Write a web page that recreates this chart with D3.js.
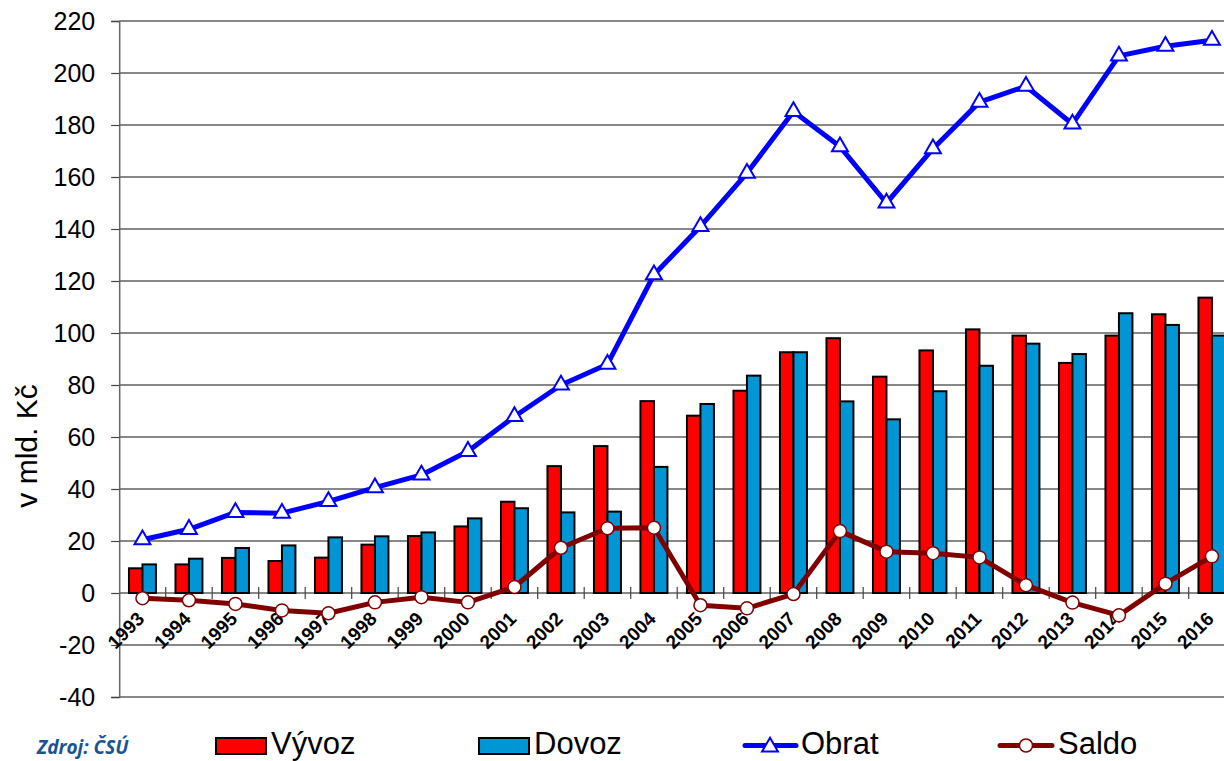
<!DOCTYPE html>
<html>
<head>
<meta charset="utf-8">
<script src="https://d3js.org/d3.v7.min.js"></script>
<style>
  body { margin: 0; background: #fff; }
  svg { display: block; font-family: Arial, "Liberation Sans", sans-serif; }
</style>
</head>
<body>
<svg id="chart" width="1224" height="761"></svg>
<script>
// data (mld. Kč)
const years = ["1993","1994","1995","1996","1997","1998","1999","2000","2001","2002","2003","2004",
               "2005","2006","2007","2008","2009","2010","2011","2012","2013","2014","2015","2016"];
const vyvoz = [9.5, 11.0, 13.5, 12.3, 13.6, 18.6, 21.9, 25.6, 35.1, 48.8, 56.5, 73.8,
               68.2, 77.8, 92.6, 98.0, 83.2, 93.3, 101.4, 99.0, 88.5, 99.0, 107.2, 113.6];
const dovoz = [11.0, 13.2, 17.3, 18.3, 21.4, 21.8, 23.3, 28.7, 32.6, 31.0, 31.3, 48.5,
               72.7, 83.6, 92.6, 73.7, 66.8, 77.6, 87.4, 95.9, 91.9, 107.6, 103.1, 99.0];
const obrat = [20.5, 24.5, 31.0, 30.7, 35.2, 40.5, 45.4, 54.5, 67.9, 80.0, 88.0, 122.4,
               141.0, 161.5, 185.2, 171.7, 150.0, 170.9, 188.8, 194.9, 180.4, 206.6, 210.3, 212.6];
const saldo = [-2.0, -2.8, -4.2, -6.7, -7.8, -3.6, -1.6, -3.6, 2.3, 17.4, 24.9, 25.1,
               -4.7, -5.9, -0.4, 23.8, 15.9, 15.3, 13.7, 3.0, -3.7, -8.6, 3.6, 14.1];
const yTicks = [-40, -20, 0, 20, 40, 60, 80, 100, 120, 140, 160, 180, 200, 220];

const svg = d3.select("#chart");
const left = 119.2, step = 46.5;

let x = d3.scaleBand().domain(years)
  .range([left, left + step * years.length])
  .paddingInner(0.42).paddingOuter(0.21);
let xSub = d3.scaleBand().domain(["v", "d"]).range([0, x.bandwidth()]);
let y = d3.scaleLinear().domain([-40, 220]).range([697, 21]);
const cx = (d, i) => x(years[i]) + x.bandwidth() / 2;

// grid lines
svg.append("g").selectAll("line").data(yTicks).join("line")
  .attr("x1", left).attr("x2", 1224)
  .attr("y1", d => y(d)).attr("y2", d => y(d))
  .attr("stroke", "#111").attr("stroke-width", 1.2);

// y axis
let yAxis = svg.append("g").attr("transform", `translate(${left},0)`)
  .call(d3.axisLeft(y).tickValues(yTicks).tickSize(8).tickPadding(16)
    .tickFormat(d => String(d)));
yAxis.select(".domain").attr("stroke", "#666").attr("stroke-width", 1.5);
yAxis.selectAll(".tick line").attr("stroke", "#444").attr("stroke-width", 1.2);
yAxis.selectAll("text").attr("font-size", "25px").attr("fill", "#000")
  .attr("font-family", "Arial, 'Liberation Sans', sans-serif");

svg.append("text")
  .attr("transform", "translate(37,446) rotate(-90)")
  .attr("text-anchor", "middle")
  .attr("font-size", "30px")
  .text("v mld. Kč");

// category tick marks on zero line
svg.append("g").selectAll("line").data(years.slice(1)).join("line")
  .attr("x1", d => x(d) - x.step() * 0.21).attr("x2", d => x(d) - x.step() * 0.21)
  .attr("y1", y(0) - 6).attr("y2", y(0) + 6)
  .attr("stroke", "#444").attr("stroke-width", 1.2);

// bars
const bars = svg.append("g");
bars.selectAll(".vyvoz").data(vyvoz).join("rect").attr("class", "vyvoz")
  .attr("x", (d, i) => x(years[i]) + xSub("v"))
  .attr("width", xSub.bandwidth())
  .attr("y", d => y(d)).attr("height", d => y(0) - y(d))
  .attr("fill", "#ff0000").attr("stroke", "#000").attr("stroke-width", 2);
bars.selectAll(".dovoz").data(dovoz).join("rect").attr("class", "dovoz")
  .attr("x", (d, i) => x(years[i]) + xSub("d"))
  .attr("width", xSub.bandwidth())
  .attr("y", d => y(d)).attr("height", d => y(0) - y(d))
  .attr("fill", "#0096d6").attr("stroke", "#000").attr("stroke-width", 2);

// x labels
svg.append("g").selectAll("text").data(years).join("text")
  .attr("transform", d => `translate(${x(d) + x.bandwidth() / 2 + 3},${y(0) + 27}) rotate(-45)`)
  .attr("text-anchor", "end")
  .attr("font-size", "19px").attr("font-weight", "bold")
  .text(d => d);

// lines
let line = d3.line().x(cx).y(d => y(d));
const tri = d3.symbol().type(d3.symbolTriangle).size(110);

svg.append("path").datum(obrat).attr("d", line)
  .attr("fill", "none").attr("stroke", "#0000ff").attr("stroke-width", 5)
  .attr("stroke-linejoin", "round");
svg.append("g").selectAll("path").data(obrat).join("path")
  .attr("d", tri)
  .attr("transform", (d, i) => `translate(${cx(d, i)},${y(d)})`)
  .attr("fill", "#fff").attr("stroke", "#0000ff").attr("stroke-width", 2);

svg.append("path").datum(saldo).attr("d", line)
  .attr("fill", "none").attr("stroke", "#800000").attr("stroke-width", 5)
  .attr("stroke-linejoin", "round");
svg.append("g").selectAll("circle").data(saldo).join("circle")
  .attr("cx", cx).attr("cy", d => y(d)).attr("r", 6.5)
  .attr("fill", "#fff").attr("stroke", "#800000").attr("stroke-width", 1.5);

// legend
svg.append("text").attr("x", 37).attr("y", 754)
  .attr("font-family", "'Open Sans', sans-serif")
  .attr("font-size", "19px").attr("font-weight", "bold").attr("font-style", "italic")
  .attr("fill", "#1a5493").text("Zdroj: ČSÚ");

const lg = svg.append("g").attr("font-size", "31px");
lg.append("rect").attr("x", 216).attr("y", 738).attr("width", 50).attr("height", 16)
  .attr("fill", "#ff0000").attr("stroke", "#000").attr("stroke-width", 2);
lg.append("text").attr("x", 271).attr("y", 754).text("Vývoz");
lg.append("rect").attr("x", 479).attr("y", 738).attr("width", 50).attr("height", 16)
  .attr("fill", "#0096d6").attr("stroke", "#000").attr("stroke-width", 2);
lg.append("text").attr("x", 534).attr("y", 754).text("Dovoz");

lg.append("line").attr("x1", 745).attr("x2", 796).attr("y1", 745.5).attr("y2", 745.5)
  .attr("stroke", "#0000ff").attr("stroke-width", 5).attr("stroke-linecap", "round");
lg.append("path").attr("d", tri).attr("transform", "translate(770,747)")
  .attr("fill", "#fff").attr("stroke", "#0000ff").attr("stroke-width", 2);
lg.append("text").attr("x", 801).attr("y", 754).text("Obrat");

lg.append("line").attr("x1", 1000).attr("x2", 1052).attr("y1", 745.5).attr("y2", 745.5)
  .attr("stroke", "#800000").attr("stroke-width", 5).attr("stroke-linecap", "round");
lg.append("circle").attr("cx", 1026).attr("cy", 745.5).attr("r", 6.5)
  .attr("fill", "#fff").attr("stroke", "#800000").attr("stroke-width", 1.5);
lg.append("text").attr("x", 1058).attr("y", 754).text("Saldo");
</script>
</body>
</html>
